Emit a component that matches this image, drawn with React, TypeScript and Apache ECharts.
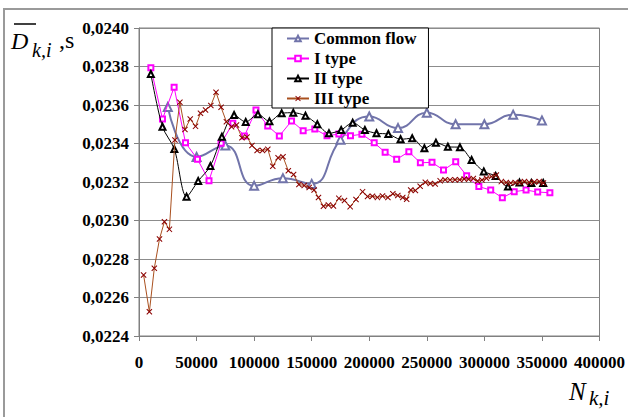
import React, { useEffect, useRef } from "react";
import * as echarts from "echarts";

const SERIES_NAMES = ["Common flow", "I type", "II type", "III type"];

const commonX = [25000, 50000, 75000, 100000, 125000, 150000, 175000, 200000, 225000, 250000, 275000, 300000, 325000, 350000];
const commonY = [0.02359, 0.02333, 0.02339, 0.02318, 0.02322, 0.02319, 0.02342, 0.02354, 0.02348, 0.02356, 0.0235, 0.0235, 0.02355, 0.02352];

const type1X = [10300, 20400, 30500, 40400, 50800, 60800, 71300, 81500, 91600, 101600, 111800, 121900, 132500, 142600, 152700, 163300, 173600, 183700, 193600, 204300, 213800, 223800, 234400, 244400, 254500, 264500, 275100, 284600, 295200, 305500, 315600, 325900, 336200, 346300, 356900];
const type1Y = [0.023794, 0.023527, 0.023692, 0.023404, 0.023318, 0.023207, 0.023401, 0.023505, 0.023439, 0.023574, 0.023491, 0.023439, 0.023517, 0.023466, 0.023475, 0.02344, 0.023449, 0.02344, 0.023448, 0.023404, 0.023354, 0.023318, 0.023357, 0.0233, 0.023302, 0.023262, 0.023305, 0.023233, 0.023176, 0.023158, 0.023118, 0.02315, 0.023158, 0.023148, 0.023144];

const type2X = [10300, 20400, 30700, 41300, 51400, 62000, 72000, 82600, 92700, 103300, 113300, 123900, 134000, 144600, 154900, 165000, 175600, 185600, 196200, 206300, 216600, 227200, 237300, 247900, 257900, 268300, 278800, 288900, 299500, 309800, 320500, 330500, 340800, 351100];
const type2Y = [0.023761, 0.023487, 0.023371, 0.023124, 0.023205, 0.023283, 0.023435, 0.023548, 0.023512, 0.023552, 0.023515, 0.023557, 0.02356, 0.023544, 0.0235, 0.023453, 0.02347, 0.023508, 0.02347, 0.023453, 0.023449, 0.023422, 0.023427, 0.023375, 0.023404, 0.023383, 0.02338, 0.023314, 0.023255, 0.023231, 0.023176, 0.023197, 0.023195, 0.023195];

const type3X = [4000, 9000, 13300, 17800, 22100, 26400, 31200, 35500, 39900, 44500, 49100, 53400, 57800, 62400, 66900, 71300, 75900, 80400, 84700, 89400, 93800, 98100, 102600, 107300, 111900, 116200, 120800, 125100, 129700, 134300, 138900, 143500, 147800, 152100, 155900, 160200, 164500, 168900, 173600, 178500, 183400, 188500, 194200, 198500, 202800, 207100, 211500, 216200, 220500, 224800, 229100, 232500, 236000, 240100, 244200, 248700, 253000, 257300, 261600, 265900, 270200, 274500, 278600, 282500, 286300, 290400, 294100, 297900, 301800, 306100, 310400, 314700, 319000, 322900, 326800, 330600, 334800, 339100, 343400, 347700, 351300];
const type3Y = [0.022717, 0.022526, 0.022752, 0.022904, 0.022994, 0.022954, 0.023418, 0.023614, 0.023473, 0.023527, 0.023489, 0.023557, 0.023574, 0.023597, 0.023666, 0.023588, 0.023513, 0.023487, 0.023496, 0.02343, 0.023434, 0.02339, 0.023364, 0.023364, 0.02337, 0.023282, 0.023326, 0.023331, 0.023258, 0.023239, 0.023187, 0.023182, 0.023171, 0.023158, 0.023119, 0.023074, 0.023081, 0.023075, 0.023115, 0.023104, 0.023072, 0.023109, 0.02315, 0.023125, 0.023126, 0.02312, 0.023127, 0.023119, 0.023139, 0.02313, 0.023119, 0.02311, 0.023158, 0.023156, 0.023178, 0.023199, 0.023192, 0.02319, 0.023206, 0.023212, 0.023211, 0.023212, 0.023212, 0.023216, 0.023214, 0.023218, 0.023205, 0.02321, 0.023219, 0.023228, 0.023236, 0.023202, 0.023197, 0.023195, 0.023197, 0.023197, 0.023203, 0.023197, 0.0232, 0.023203, 0.023195];

const Y_MIN = 0.0224;
const Y_MAX = 0.024;
const Y_STEP = 0.0002;
const X_MIN = 0;
const X_MAX = 400000;
const X_STEP = 50000;

const FONT = "'Liberation Serif', 'Times New Roman', serif";

const pairs = (xs: number[], ys: number[]) => xs.map((x, i) => [x, ys[i]]);

const X_SYMBOL = "path://M0,1.2L1.2,0L5,3.8L8.8,0L10,1.2L6.2,5L10,8.8L8.8,10L5,6.2L1.2,10L0,8.8L3.8,5Z";

export default function App() {
  const ref = useRef<HTMLDivElement>(null);
  useEffect(() => {
    const chart = echarts.init(ref.current!, null, { renderer: "svg" });
    const option: any = {
      animation: false,
      backgroundColor: "#ffffff",
      textStyle: { fontFamily: FONT },
      grid: {
        left: 139,
        top: 28,
        right: 24,
        bottom: 81,
        show: true,
        borderColor: "#808080",
        borderWidth: 1,
      },
      legend: {
        orient: "vertical",
        left: 272,
        top: 28,
        itemWidth: 22,
        itemHeight: 7,
        itemGap: 3,
        padding: [2, 12, 1, 14],
        backgroundColor: "#ffffff",
        borderColor: "#000000",
        borderWidth: 1,
        textStyle: { fontFamily: FONT, fontWeight: "bold", fontSize: 17, color: "#000" },
        data: SERIES_NAMES,
      },
      xAxis: {
        type: "value",
        min: X_MIN,
        max: X_MAX,
        interval: X_STEP,
        axisLine: { show: true, onZero: false, lineStyle: { color: "#808080", width: 1 } },
        axisTick: { show: true, length: 5, lineStyle: { color: "#808080" } },
        splitLine: { show: false },
        axisLabel: {
          fontFamily: FONT,
          fontWeight: "bold",
          fontSize: 17,
          color: "#000",
          margin: 18,
          formatter: (v: number) => String(Math.round(v)),
        },
      },
      yAxis: {
        type: "value",
        min: Y_MIN,
        max: Y_MAX,
        interval: Y_STEP,
        axisLine: { show: true, onZero: false, lineStyle: { color: "#808080", width: 1 } },
        axisTick: { show: true, length: 5, lineStyle: { color: "#808080" } },
        splitLine: { show: true, lineStyle: { color: "#8c8c8c", width: 1 } },
        axisLabel: {
          fontFamily: FONT,
          fontWeight: "bold",
          fontSize: 17,
          color: "#000",
          margin: 10,
          formatter: (v: number) => v.toFixed(4).replace(".", ","),
        },
      },
      series: [
        {
          name: SERIES_NAMES[0],
          type: "line",
          smooth: 0.5,
          data: pairs(commonX, commonY),
          symbol: "emptyTriangle",
          symbolSize: 8,
          lineStyle: { color: "#7174AA", width: 2 },
          itemStyle: { color: "#7174AA", borderColor: "#7174AA", borderWidth: 1 },
          z: 2,
        },
        {
          name: SERIES_NAMES[1],
          type: "line",
          data: pairs(type1X, type1Y),
          symbol: "emptyRect",
          symbolSize: 5,
          lineStyle: { color: "#FF00FF", width: 1 },
          itemStyle: { color: "#FF00FF", borderColor: "#FF00FF", borderWidth: 1 },
          z: 3,
        },
        {
          name: SERIES_NAMES[2],
          type: "line",
          smooth: 0.3,
          data: pairs(type2X, type2Y),
          symbol: "emptyTriangle",
          symbolSize: 6,
          lineStyle: { color: "#000000", width: 1 },
          itemStyle: { color: "#000000", borderColor: "#000000", borderWidth: 1 },
          z: 4,
        },
        {
          name: SERIES_NAMES[3],
          type: "line",
          data: pairs(type3X, type3Y),
          symbol: X_SYMBOL,
          symbolSize: 6,
          lineStyle: { color: "#A9501F", width: 1 },
          itemStyle: { color: "#8B0000" },
          z: 5,
        },
      ],
      graphic: [
        {
          type: "rect",
          shape: { x: 4, y: 9, width: 640, height: 430 },
          style: { fill: "none", stroke: "#9a9a9a", lineWidth: 2 },
          silent: true,
          z: 0,
        },
        {
          type: "line",
          shape: { x1: 14, y1: 24, x2: 36, y2: 24 },
          style: { stroke: "#000", lineWidth: 1.5 },
          silent: true,
        },
        {
          type: "text",
          x: 11,
          y: 41,
          style: { text: "D", fontFamily: FONT, fontStyle: "italic", fontSize: 24, fill: "#000", textAlign: "left", textVerticalAlign: "middle" },
          silent: true,
        },
        {
          type: "text",
          x: 32,
          y: 50,
          style: { text: "k,i", fontFamily: FONT, fontStyle: "italic", fontSize: 20, fill: "#000", textAlign: "left", textVerticalAlign: "middle" },
          silent: true,
        },
        {
          type: "text",
          x: 59,
          y: 40,
          style: { text: ",s", fontFamily: FONT, fontSize: 24, fill: "#000", textAlign: "left", textVerticalAlign: "middle" },
          silent: true,
        },
        {
          type: "text",
          x: 569,
          y: 391,
          style: { text: "N", fontFamily: FONT, fontStyle: "italic", fontSize: 25, fill: "#000", textAlign: "left", textVerticalAlign: "middle" },
          silent: true,
        },
        {
          type: "text",
          x: 589,
          y: 398,
          style: { text: "k,i", fontFamily: FONT, fontStyle: "italic", fontSize: 21, fill: "#000", textAlign: "left", textVerticalAlign: "middle" },
          silent: true,
        },
      ],
    };
    chart.setOption(option);
    return () => chart.dispose();
  }, []);
  return (
    <div
      ref={ref}
      style={{ position: "absolute", left: 0, top: 0, width: 628, height: 417, background: "#fff" }}
    />
  );
}
